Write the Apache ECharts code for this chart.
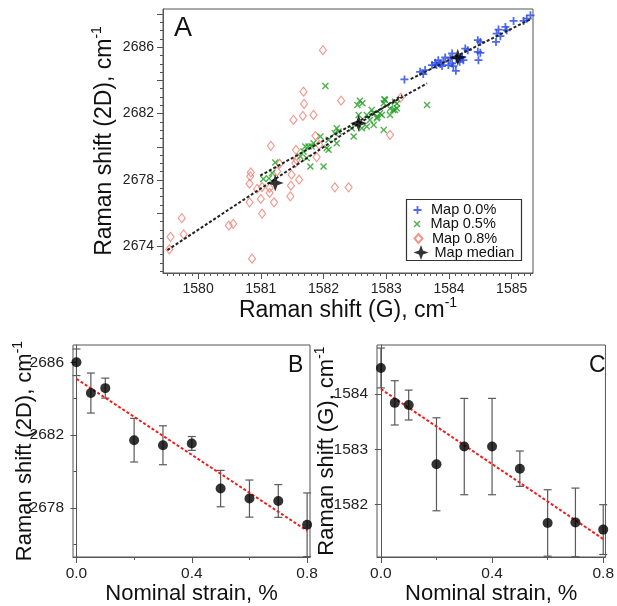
<!DOCTYPE html>
<html>
<head>
<meta charset="utf-8">
<script src="https://cdn.jsdelivr.net/npm/echarts@6/dist/echarts.min.js"></script>
<style>
html,body{margin:0;padding:0;background:#fff;}
#c{width:617px;height:606px;}
</style>
</head>
<body>
<div id="c"></div>
<script>
// ---------- Panel A data: [G shift, 2D shift] ----------
const map00 = [
  [1583.29,2684.06],[1583.54,2684.52],[1583.59,2684.38],[1583.62,2684.62],[1583.73,2684.92],
  [1583.78,2685.06],[1583.83,2685.22],[1583.86,2684.98],[1583.91,2685.12],[1583.94,2685.38],
  [1584.02,2685.32],[1584.05,2685.02],[1584.07,2684.86],[1584.11,2684.58],[1584.05,2685.62],
  [1584.21,2685.42],[1584.23,2685.22],[1584.17,2685.12],[1584.26,2685.92],[1584.30,2685.82],
  [1584.46,2686.42],[1584.50,2686.32],[1584.46,2685.72],[1584.50,2685.66],[1584.47,2685.22],
  [1584.76,2686.82],[1584.79,2687.06],[1584.75,2686.32],[1584.82,2686.66],[1584.90,2687.22],
  [1584.92,2687.02],[1585.03,2687.58],[1585.19,2687.58],[1585.30,2687.92],[1585.24,2687.72],
  [1584.12,2685.32],[1583.99,2684.92],[1583.89,2684.86],[1583.80,2684.92],[1584.18,2685.32]
];
const map05 = [
  [1582.03,2683.66],[1582.58,2682.78],[1582.54,2682.52],[1582.62,2682.62],[1582.98,2682.82],
  [1582.96,2682.62],[1583.14,2682.72],[1583.17,2682.32],[1583.11,2682.22],[1582.90,2682.02],
  [1582.80,2682.02],[1582.85,2681.72],[1582.74,2681.62],[1582.69,2681.22],[1582.61,2681.12],
  [1582.45,2681.12],[1582.56,2681.92],[1582.69,2681.92],[1582.96,2681.02],[1583.06,2682.30],
  [1582.21,2681.12],[1582.24,2680.92],[1582.18,2680.82],[1582.08,2680.42],[1582.05,2679.92],
  [1581.95,2680.62],[1581.84,2680.22],[1581.81,2680.02],[1581.71,2680.02],[1581.68,2679.72],
  [1581.63,2679.42],[1581.79,2678.82],[1582.00,2678.82],[1581.73,2679.32],[1582.08,2679.82],
  [1581.23,2679.06],[1581.04,2678.06],[1581.13,2678.10],[1582.48,2680.62],[1582.21,2680.22],
  [1581.18,2678.42],[1582.97,2682.86],[1583.65,2682.52],[1582.77,2682.22],[1582.80,2681.32],
  [1583.14,2682.22],[1583.17,2682.60],[1583.06,2681.92],[1582.93,2681.92],[1582.86,2681.80],
  [1581.76,2680.02]
];
const map08 = [
  [1581.99,2685.82],[1581.68,2683.32],[1581.69,2682.58],[1582.28,2682.78],[1581.52,2681.62],
  [1581.67,2681.86],[1581.84,2681.92],[1581.16,2680.06],[1581.87,2680.66],[1581.56,2679.82],
  [1581.93,2680.12],[1581.89,2679.38],[1580.83,2678.22],[1580.84,2678.46],[1580.82,2677.78],
  [1580.94,2677.46],[1581.02,2677.58],[1581.14,2677.52],[1580.82,2676.66],[1581.00,2676.86],
  [1581.21,2676.66],[1581.47,2677.02],[1581.48,2677.66],[1581.49,2678.32],[1581.61,2678.02],
  [1581.55,2679.02],[1581.26,2678.52],[1581.30,2678.98],[1582.18,2677.56],[1582.40,2677.56],
  [1581.02,2675.98],[1579.74,2675.70],[1580.49,2675.26],[1580.56,2675.36],[1579.56,2674.58],
  [1579.77,2674.72],[1579.54,2673.82],[1580.86,2673.26],[1581.57,2679.22],[1583.06,2680.72],
  [1583.23,2682.96],[1581.14,2677.22]
];
const medians = [[1584.14,2685.39],[1582.56,2681.42],[1581.23,2677.82]];
const fit00 = [[1583.39,2684.08],[1585.32,2687.72]];
const fit05 = [[1580.99,2678.26],[1583.65,2683.82]];
const fit08 = [[1579.51,2673.78],[1583.25,2683.10]];

// ---------- Panels B and C data ----------
const strain = [0, 0.05, 0.1, 0.2, 0.3, 0.4, 0.5, 0.6, 0.7, 0.8];
const shift2D = [2686.0, 2684.31, 2684.58, 2681.72, 2681.44, 2681.54, 2679.06, 2678.51, 2678.38, 2677.07];
const err2D   = [0.73, 1.1, 0.55, 1.2, 1.07, 0.38, 1.0, 1.02, 0.9, 1.75];
const shiftG  = [1584.47, 1583.84, 1583.80, 1582.73, 1583.05, 1583.05, 1582.65, 1581.67, 1581.68, 1581.55];
const errG    = [0.36, 0.4, 0.27, 0.84, 0.87, 0.87, 0.32, 0.6, 0.62, 0.45];
const fit2D = [[0, 2685.09], [0.8, 2676.74]];
const fitG  = [[0, 1584.09], [0.8, 1581.38]];

// ---------- tick labels ----------
const ticksAx = [1580, 1581, 1582, 1583, 1584, 1585];
const ticksAy = [2674, 2678, 2682, 2686];
const ticksBx = [0, 0.4, 0.8];
const ticksBy = [2678, 2682, 2686];
const ticksCy = [1582, 1583, 1584];
const legendNames = ['Map 0.0%', 'Map 0.5%', 'Map 0.8%', 'Map median'];

function range(a, b, s) { const r = []; for (let v = a; v <= b + 1e-9; v += s) r.push(+v.toFixed(4)); return r; }

const FONT = 'Liberation Sans, Arial, sans-serif';
const AXC = '#555';
const BLUE = '#2244e4', GREEN = '#1f9e1f', RED = '#f27b6c';

const plusPath = 'path://M3.9,0H6.1V3.9H10V6.1H6.1V10H3.9V6.1H0V3.9H3.9Z';
const xPath = 'path://M0,1.4L1.4,0L5,3.6L8.6,0L10,1.4L6.4,5L10,8.6L8.6,10L5,6.4L1.4,10L0,8.6L3.6,5Z';
const starPath = 'path://M5,0L6.3,3.7L10,5L6.3,6.3L5,10L3.7,6.3L0,5L3.7,3.7Z';
const diamondPath = 'path://M4.4,0L8.8,5L4.4,10L0,5Z';

function richName(txt, fs, ss) {
  return {
    name: '{a|' + txt + '}{s|-1}',
    nameMoveOverlap: false,
    nameTextStyle: {
      fontFamily: FONT, color: '#111',
      rich: {
        a: { fontSize: fs, fontFamily: FONT, color: '#111', lineHeight: fs + 6 },
        s: { fontSize: ss, fontFamily: FONT, color: '#111', lineHeight: ss, verticalAlign: 'top' }
      }
    }
  };
}

function valAxis(gridIndex, min, max, major, labels, fs, fmt, opts) {
  return Object.assign({
    type: 'value', gridIndex, min, max,
    axisLine: { show: true, lineStyle: { color: AXC, width: 1 } },
    axisTick: { show: true, customValues: major, length: 6, lineStyle: { color: AXC } },
    axisLabel: { customValues: labels, fontFamily: FONT, color: '#222', fontSize: fs, margin: 9, formatter: fmt },
    splitLine: { show: false }
  }, opts || {});
}
function minorAxis(gridIndex, min, max, vals, pos) {
  return {
    type: 'value', gridIndex, min, max, position: pos,
    axisLine: { show: false },
    axisTick: { show: true, customValues: vals, length: 3, lineStyle: { color: AXC } },
    axisLabel: { show: false },
    splitLine: { show: false }
  };
}
const fmtInt = v => String(Math.round(v));
const fmt1 = v => v.toFixed(1);

function errorSeries(xi, yi, xs, ys, es) {
  return {
    type: 'custom', xAxisIndex: xi, yAxisIndex: yi, z: 3,
    data: xs.map((x, i) => [x, ys[i] - es[i], ys[i] + es[i]]),
    renderItem: function (params, api) {
      const x = api.value(0);
      const p1 = api.coord([x, api.value(1)]);
      const p2 = api.coord([x, api.value(2)]);
      const w = 4;
      const st = { stroke: '#5a5a5a', lineWidth: 1.2 };
      return {
        type: 'group', children: [
          { type: 'line', shape: { x1: p1[0], y1: p1[1], x2: p2[0], y2: p2[1] }, style: st },
          { type: 'line', shape: { x1: p1[0] - w, y1: p1[1], x2: p1[0] + w, y2: p1[1] }, style: st },
          { type: 'line', shape: { x1: p2[0] - w, y1: p2[1], x2: p2[0] + w, y2: p2[1] }, style: st }
        ]
      };
    }
  };
}

function legendItem(name, top, ih) {
  return {
    orient: 'vertical', left: 413.5, top: top, data: [name], z: 20,
    itemWidth: 17, itemHeight: ih, padding: 0, selectedMode: false, symbolKeepAspect: true,
    textStyle: { fontFamily: FONT, fontSize: 14.5, color: '#111' }
  };
}

const chart = echarts.init(document.getElementById('c'), null, { renderer: 'canvas' });

const gridStyle = { show: true, borderColor: AXC, borderWidth: 1, backgroundColor: 'transparent', containLabel: false };

const option = {
  animation: false,
  backgroundColor: '#fff',
  textStyle: { fontFamily: FONT },
  grid: [
    Object.assign({ left: 163, top: 9, width: 370, height: 264 }, gridStyle),
    Object.assign({ left: 73, top: 345, width: 237, height: 213 }, gridStyle),
    Object.assign({ left: 377, top: 345, width: 235, height: 213 }, gridStyle)
  ],
  xAxis: [
    valAxis(0, 1579.44, 1585.34, ticksAx, ticksAx, 14, fmtInt, Object.assign({ nameLocation: 'middle', nameGap: 23 }, richName('Raman shift (G), cm', 23, 14))),
    minorAxis(0, 1579.44, 1585.34, range(1579.5, 1585.3, 0.1), 'bottom'),
    valAxis(1, -0.012, 0.81, ticksBx, ticksBx, 15.5, fmt1, { nameLocation: 'middle', nameGap: 26, name: 'Nominal strain, %', nameMoveOverlap: false,
      nameTextStyle: { fontFamily: FONT, fontSize: 22, color: '#111' } }),
    minorAxis(1, -0.012, 0.81, [0.2, 0.6], 'bottom'),
    valAxis(2, -0.014, 0.808, ticksBx, ticksBx, 15.5, fmt1, { nameLocation: 'middle', nameGap: 26, name: 'Nominal strain, %', nameMoveOverlap: false,
      nameTextStyle: { fontFamily: FONT, fontSize: 22, color: '#111' } }),
    minorAxis(2, -0.014, 0.808, [0.2, 0.6], 'bottom')
  ],
  yAxis: [
    valAxis(0, 2672.4, 2688.3, range(2674, 2688, 2), ticksAy, 14, fmtInt, Object.assign({ nameLocation: 'middle', nameRotate: 90, nameGap: 44 }, richName('Raman shift (2D), cm', 23, 14))),
    minorAxis(0, 2672.4, 2688.3, range(2672.5, 2688, 0.5), 'left'),
    valAxis(1, 2675.3, 2686.95, ticksBy, ticksBy, 15.5, fmtInt, Object.assign({ nameLocation: 'middle', nameRotate: 90, nameGap: 34 }, richName('Raman shift (2D), cm', 22, 14))),
    minorAxis(1, 2675.3, 2686.95, [2676, 2680, 2684], 'left'),
    valAxis(2, 1581.055, 1584.885, ticksCy, ticksCy, 15.5, fmtInt, Object.assign({ nameLocation: 'middle', nameRotate: 90, nameGap: 36 }, richName('Raman shift (G), cm', 22, 14)))
  ],
  legend: [
    legendItem(legendNames[0], 202.5, 8),
    legendItem(legendNames[1], 216.5, 7),
    legendItem(legendNames[2], 231, 9),
    legendItem(legendNames[3], 245, 15)
  ],
  series: [
    { name: legendNames[2], type: 'scatter', xAxisIndex: 0, yAxisIndex: 0, data: map08, symbol: diamondPath, symbolSize: [8, 9],
      symbolKeepAspect: true,
      itemStyle: { color: 'rgba(255,255,255,0)', borderColor: RED, borderWidth: 1.1 }, z: 2 },
    { name: legendNames[1], type: 'scatter', xAxisIndex: 0, yAxisIndex: 0, data: map05, symbol: xPath, symbolSize: 7,
      itemStyle: { color: GREEN }, z: 3 },
    { name: legendNames[0], type: 'scatter', xAxisIndex: 0, yAxisIndex: 0, data: map00, symbol: plusPath, symbolSize: 8,
      itemStyle: { color: BLUE }, z: 3 },
    { name: 'fit00', type: 'line', xAxisIndex: 0, yAxisIndex: 0, data: fit00, symbol: 'none',
      lineStyle: { color: '#222', width: 2, type: [3, 2] }, z: 4 },
    { name: 'fit05', type: 'line', xAxisIndex: 0, yAxisIndex: 0, data: fit05, symbol: 'none',
      lineStyle: { color: '#222', width: 2, type: [3, 2] }, z: 4 },
    { name: 'fit08', type: 'line', xAxisIndex: 0, yAxisIndex: 0, data: fit08, symbol: 'none',
      lineStyle: { color: '#222', width: 2, type: [3, 2] }, z: 4 },
    { name: legendNames[3], type: 'scatter', xAxisIndex: 0, yAxisIndex: 0, data: medians, symbol: starPath, symbolSize: 17,
      itemStyle: { color: '#000' }, z: 5 },

    errorSeries(2, 2, strain, shift2D, err2D),
    { type: 'line', xAxisIndex: 2, yAxisIndex: 2, data: fit2D, symbol: 'none',
      lineStyle: { color: '#f01c1c', width: 2, type: [3, 2] }, z: 4 },
    { type: 'scatter', xAxisIndex: 2, yAxisIndex: 2, data: strain.map((s, i) => [s, shift2D[i]]),
      symbol: 'circle', symbolSize: 10, itemStyle: { color: '#000' }, z: 5 },

    errorSeries(4, 4, strain, shiftG, errG),
    { type: 'line', xAxisIndex: 4, yAxisIndex: 4, data: fitG, symbol: 'none',
      lineStyle: { color: '#f01c1c', width: 2, type: [3, 2] }, z: 4 },
    { type: 'scatter', xAxisIndex: 4, yAxisIndex: 4, data: strain.map((s, i) => [s, shiftG[i]]),
      symbol: 'circle', symbolSize: 10, itemStyle: { color: '#000' }, z: 5 }
  ],
  graphic: [
    { type: 'rect', z: 1, shape: { x: 406.5, y: 199.5, width: 115, height: 61 },
      style: { fill: '#fff', stroke: '#333', lineWidth: 1.2 }, silent: true },
    { type: 'text', left: 174, top: 15, style: { text: 'A', fontSize: 27, fontFamily: FONT, fill: '#111' } },
    { type: 'text', left: 288, top: 354, style: { text: 'B', fontSize: 23, fontFamily: FONT, fill: '#111' } },
    { type: 'text', left: 589, top: 354, style: { text: 'C', fontSize: 23, fontFamily: FONT, fill: '#111' } }
  ]
};
chart.setOption(option);
</script>
</body>
</html>
